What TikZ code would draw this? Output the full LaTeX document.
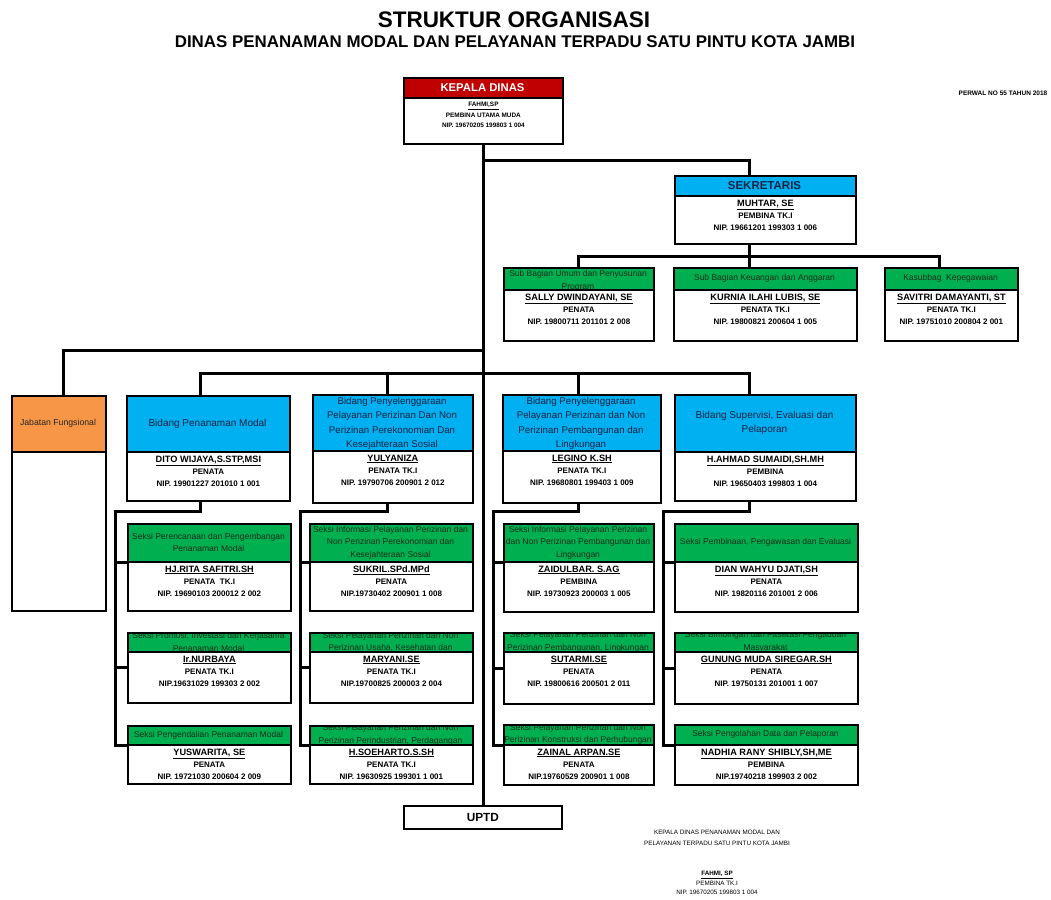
\documentclass[tikz,border=0pt]{standalone}
\usepackage{fontspec}
\setmainfont{Liberation Sans}
\usetikzlibrary{calc}
\definecolor{kdred}{RGB}{192,0,0}
\definecolor{bblue}{RGB}{0,176,240}
\definecolor{sgreen}{RGB}{0,176,80}
\definecolor{jorange}{RGB}{247,150,70}
\definecolor{btext}{RGB}{20,35,70}
\definecolor{gtext}{RGB}{25,45,25}
\tikzset{
  conn/.style={line width=3pt},
  frame/.style={draw, line width=1.8pt, inner sep=0pt, anchor=north west},
  hdr/.style={align=center, inner sep=0pt},
  hdrG/.style={text=gtext, font=\fontsize{8.5}{12.5}\selectfont},
  hdrB/.style={text=btext, font=\fontsize{10}{14.5}\selectfont},
  hdrBB/.style={text=btext, font=\fontsize{9.7}{14.3}\selectfont},
  body/.style={align=center, inner sep=0pt, anchor=north, font=\bfseries\fontsize{8}{12}\selectfont},
}
% #1 name, #2 x1, #3 y1, #4 x2, #5 y2, #6 header bottom, #7 fill, #8 header style, #9 header text
\newcommand{\obox}[9]{%
  \fill[#7] (#2,#3) rectangle (#4,#6);
  \begin{scope}
    \clip (#2,#3) rectangle (#4,#6);
    \node[hdr,#8] at ({(#2+#4)/2},{(#3+#6)/2}) {#9};
  \end{scope}
  \draw[line width=1.4pt] (#2,#6) -- (#4,#6);
  \node[frame, minimum width={(#4-#2)*1pt}, minimum height={(#5-#3)*1pt}] (#1) at (#2,#3) {};
}
\newcommand{\obody}[3]{\node[body] at (#1.north |- 0,{#2+3.5}) {#3};}
\newcommand{\ppl}[3]{{\fontsize{9.2}{12}\selectfont\underline{#1}}\\#2\\#3}
\begin{document}
\begin{tikzpicture}[x=1pt,y=-1pt]
\useasboundingbox (0,0) rectangle (1051,899);
\fill[white] (0,0) rectangle (1051,899);
\node[font=\bfseries\fontsize{22.5}{26}\selectfont] (title) at (514,20) {STRUKTUR ORGANISASI};
\node[font=\bfseries\fontsize{16.9}{20}\selectfont] (subtitle) at (515,42) {DINAS PENANAMAN MODAL DAN PELAYANAN TERPADU SATU PINTU KOTA JAMBI};
\node[font=\bfseries\fontsize{6.5}{8}\selectfont] (perwal) at (1003,93) {PERWAL NO 55 TAHUN 2018};

% Kepala dinas
\obox{kd}{403}{77}{562}{143}{98}{kdred}{text=white, font=\bfseries\fontsize{11.3}{13}\selectfont}{KEPALA DINAS}
\node[body, font=\bfseries\fontsize{6.4}{10.5}\selectfont] (kdbody) at (kd.north |- 0,102) {\underline{FAHMI,SP}\\PEMBINA UTAMA MUDA\\NIP. 19670205 199803 1 004};

% Sekretaris
\obox{sek}{674}{175}{855}{243}{196}{bblue}{text=btext, font=\bfseries\fontsize{11.5}{13}\selectfont}{SEKRETARIS}
\obody{sek}{196}{\ppl{MUHTAR, SE}{PEMBINA TK.I}{NIP. 19661201 199303 1 006}}

% Sub bagian
\obox{sb1}{503}{267}{653}{340}{290}{sgreen}{hdrG, yshift=-2.5pt}{Sub Bagian Umum dan Penyusunan\\Program}
\obody{sb1}{290}{\ppl{SALLY DWINDAYANI, SE}{PENATA}{NIP. 19800711 201101 2 008}}
\obox{sb2}{673}{267}{856}{340}{290}{sgreen}{hdrG}{Sub Bagian Keuangan dan Anggaran}
\obody{sb2}{290}{\ppl{KURNIA ILAHI LUBIS, SE}{PENATA TK.I}{NIP. 19800821 200604 1 005}}
\obox{sb3}{884}{267}{1017}{340}{290}{sgreen}{hdrG}{Kasubbag\ \ Kepegawaian}
\obody{sb3}{290}{\ppl{SAVITRI DAMAYANTI, ST}{PENATA TK.I}{NIP. 19751010 200804 2 001}}

% Jabatan fungsional
\obox{jf}{11}{395}{105}{610}{452}{jorange}{text=black!85, font=\fontsize{8.7}{11}\selectfont}{Jabatan Fungsional}

% Bidang
\obox{b1}{126}{395}{289}{500}{452}{bblue}{hdrB}{Bidang Penanaman Modal}
\obody{b1}{452}{\ppl{DITO WIJAYA,S.STP,MSI}{PENATA}{NIP. 19901227 201010 1 001}}
\obox{b2}{312}{394}{472}{502}{451}{bblue}{hdrBB, yshift=-1pt}{Bidang Penyelenggaraan\\Pelayanan Perizinan Dan Non\\Perizinan Perekonomian Dan\\Kesejahteraan Sosial}
\obody{b2}{451}{\ppl{YULYANIZA}{PENATA TK.I}{NIP. 19790706 200901 2 012}}
\obox{b3}{502}{394}{660}{502}{451}{bblue}{hdrBB, yshift=-1pt}{Bidang Penyelenggaraan\\Pelayanan Perizinan dan Non\\Perizinan Pembangunan dan\\Lingkungan}
\obody{b3}{451}{\ppl{LEGINO K.SH}{PENATA TK.I}{NIP. 19680801 199403 1 009}}
\obox{b4}{674}{394}{855}{500}{452}{bblue}{hdrB}{Bidang Supervisi, Evaluasi dan\\Pelaporan}
\obody{b4}{452}{\ppl{H.AHMAD SUMAIDI,SH.MH}{PEMBINA}{NIP. 19650403 199803 1 004}}

% Column 1
\obox{s11}{127}{523}{290}{610}{562}{sgreen}{hdrG}{Seksi Perencanaan dan Pengembangan\\Penanaman Modal}
\obody{s11}{562}{\ppl{HJ.RITA SAFITRI.SH}{PENATA\ \ TK.I}{NIP. 19690103 200012 2 002}}
\obox{s12}{127}{632}{290}{702}{652}{sgreen}{hdrG}{Seksi Promosi, Investasi dan Kerjasama\\Penanaman Modal}
\obody{s12}{652}{\ppl{Ir.NURBAYA}{PENATA TK.I}{NIP.19631029 199303 2 002}}
\obox{s13}{127}{725}{290}{783}{745}{sgreen}{hdrG}{Seksi Pengendalian Penanaman Modal}
\obody{s13}{745}{\ppl{YUSWARITA, SE}{PENATA}{NIP. 19721030 200604 2 009}}

% Column 2
\obox{s21}{309}{523}{472}{610}{562}{sgreen}{hdrG}{Seksi Informasi Pelayanan Perizinan dan\\Non Perizinan Perekonomian dan\\Kesejahteraan Sosial}
\obody{s21}{562}{\ppl{SUKRIL.SPd.MPd}{PENATA}{NIP.19730402 200901 1 008}}
\obox{s22}{309}{632}{472}{702}{652}{sgreen}{hdrG}{Seksi Pelayanan Perizinan dan Non\\Perizinan Usaha, Kesehatan dan}
\obody{s22}{652}{\ppl{MARYANI.SE}{PENATA TK.I}{NIP.19700825 200003 2 004}}
\obox{s23}{309}{725}{472}{783}{745}{sgreen}{hdrG}{Seksi Pelayanan Perizinan dan Non\\Perizinan Perindustrian, Perdagangan}
\obody{s23}{745}{\ppl{H.SOEHARTO.S.SH}{PENATA TK.I}{NIP. 19630925 199301 1 001}}

% Column 3
\obox{s31}{503}{523}{653}{611}{562}{sgreen}{hdrG}{Seksi Informasi Pelayanan Perizinan\\dan Non Perizinan Pembangunan dan\\Lingkungan}
\obody{s31}{562}{\ppl{ZAIDULBAR. S.AG}{PEMBINA}{NIP. 19730923 200003 1 005}}
\obox{s32}{503}{632}{653}{703}{652}{sgreen}{hdrG}{Seksi Pelayanan Perizinan dan Non\\Perizinan Pembangunan, Lingkungan}
\obody{s32}{652}{\ppl{SUTARMI.SE}{PENATA}{NIP. 19800616 200501 2 011}}
\obox{s33}{503}{724}{653}{784}{745}{sgreen}{hdrG}{Seksi Pelayanan Perizinan dan Non\\Perizinan Konstruksi dan Perhubungan}
\obody{s33}{745}{\ppl{ZAINAL ARPAN.SE}{PENATA}{NIP.19760529 200901 1 008}}

% Column 4
\obox{s41}{674}{523}{857}{611}{562}{sgreen}{hdrG}{Seksi Pembinaan, Pengawasan dan Evaluasi}
\obody{s41}{562}{\ppl{DIAN WAHYU DJATI,SH}{PENATA}{NIP. 19820116 201001 2 006}}
\obox{s42}{674}{632}{857}{703}{652}{sgreen}{hdrG}{Seksi Bimbingan dan Fasilitasi Pengaduan\\Masyarakat}
\obody{s42}{652}{\ppl{GUNUNG MUDA SIREGAR.SH}{PENATA}{NIP. 19750131 201001 1 007}}
\obox{s43}{674}{724}{857}{784}{745}{sgreen}{hdrG}{Seksi Pengolahan Data dan Pelaporan}
\obody{s43}{745}{\ppl{NADHIA RANY SHIBLY,SH,ME}{PEMBINA}{NIP.19740218 199903 2 002}}

% UPTD
\node[frame, minimum width=158pt, minimum height=23pt] (uptd) at (403,805) {};
\node[font=\bfseries\fontsize{11.8}{13}\selectfont] (uptdlabel) at (uptd.center) {UPTD};

% Connectors
\draw[conn] (kd.south) -- (kd.south |- uptd.north);
\draw[conn] (kd.south |- 0,160) -| ($(sek.north)+(-15.5,0)$);
\draw[conn] ($(sek.south)+(-15.5,0)$) -- ($(sek.south)+(-15.5,24)$);
\draw[conn] (sb1.north) -- ($(sb1.north)+(0,-11)$) -| ($(sb3.north)+(-11.5,0)$);
\draw[conn] (kd.south |- 0,350) -| ($(jf.north)+(5,0)$);
\draw[conn] ($(b1.north)+(-7.5,0)$) -- ($(b1.north)+(-7.5,-22)$) -| ($(b4.north)+(-15.5,0)$);
\draw[conn] ($(b2.north)+(-5,0)$) -- ($(b2.north)+(-5,-21)$);
\draw[conn] ($(b3.north)+(-3,0)$) -- ($(b3.north)+(-3,-21)$);
% column 1
\draw[conn] ($(b1.south)+(-7.5,0)$) -- ($(b1.south)+(-7.5,10)$) -| ($(s13.west)+(-12,-9)$) -- ($(s13.west)+(0,-9)$);
\draw[conn] ($(s11.west)+(-12,-4.5)$) -- ($(s11.west)+(0,-4.5)$);
\draw[conn] ($(s12.west)+(-12,0)$) -- (s12.west);
% column 2
\draw[conn] ($(b2.south)+(-5,0)$) -- ($(b2.south)+(-5,8)$) -| ($(s23.west)+(-9,-9)$) -- ($(s23.west)+(0,-9)$);
\draw[conn] ($(s21.west)+(-9,-4.5)$) -- ($(s21.west)+(0,-4.5)$);
\draw[conn] ($(s22.west)+(-9,0)$) -- (s22.west);
% column 3
\draw[conn] ($(b3.south)+(-3,0)$) -- ($(b3.south)+(-3,8)$) -| ($(s33.west)+(-10,-9)$) -- ($(s33.west)+(0,-9)$);
\draw[conn] ($(s31.west)+(-10,-5)$) -- ($(s31.west)+(0,-5)$);
\draw[conn] ($(s32.west)+(-10,0)$) -- (s32.west);
% column 4
\draw[conn] ($(b4.south)+(-15.5,0)$) -- ($(b4.south)+(-15.5,10)$) -| ($(s43.west)+(-11,-9)$) -- ($(s43.west)+(0,-9)$);
\draw[conn] ($(s41.west)+(-11,-5)$) -- ($(s41.west)+(0,-5)$);
\draw[conn] ($(s42.west)+(-11,0)$) -- (s42.west);

% signature
\node[font=\fontsize{6.3}{11}\selectfont, align=center] (sig1) at (717,837.5) {KEPALA DINAS PENANAMAN MODAL DAN\\PELAYANAN TERPADU SATU PINTU KOTA JAMBI};
\node[font=\fontsize{6.3}{9.5}\selectfont, align=center, anchor=north] (sig2) at (717,868) {\textbf{\underline{FAHMI, SP}}\\PEMBINA TK.I\\NIP. 19670205 199803 1 004};
\end{tikzpicture}
\end{document}
